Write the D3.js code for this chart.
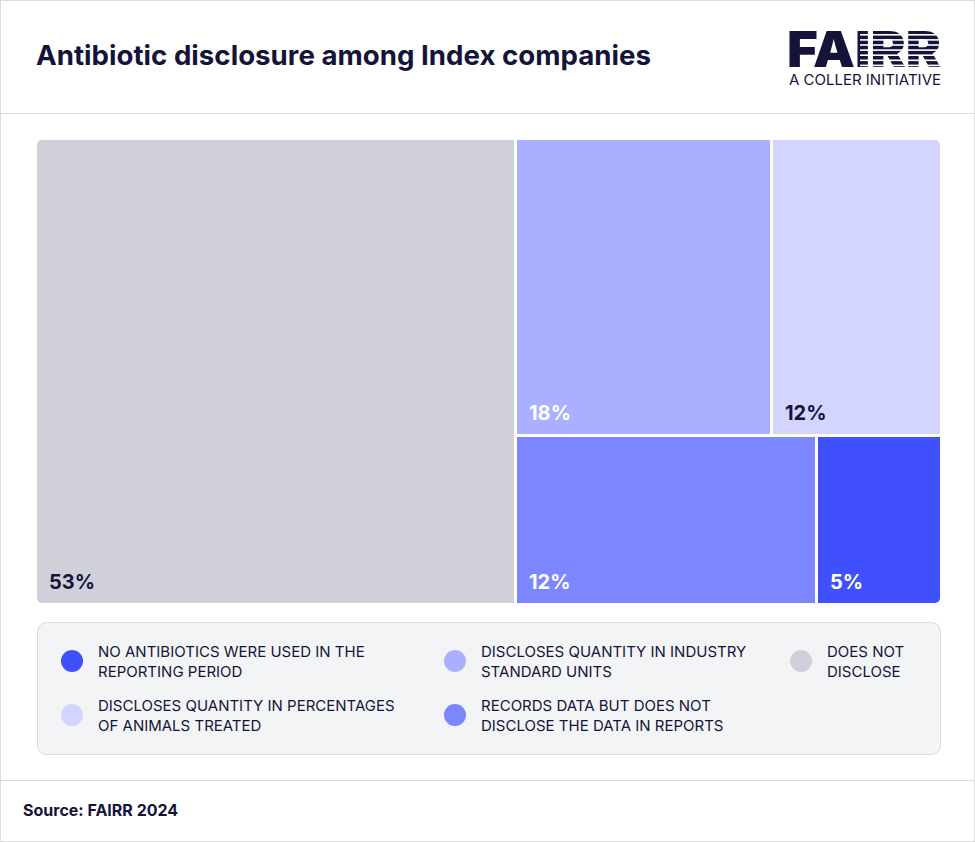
<!DOCTYPE html>
<html>
<head>
<meta charset="utf-8">
<title>Antibiotic disclosure among Index companies</title>
<script src="https://d3js.org/d3.v7.min.js"></script>
<style>
  body { margin: 0; background: #fff; }
  text { font-family: Inter, "Noto Sans", sans-serif; }
</style>
</head>
<body>
<script>
// data
const categories = [
  "DOES NOT DISCLOSE",
  "DISCLOSES QUANTITY IN INDUSTRY STANDARD UNITS",
  "DISCLOSES QUANTITY IN PERCENTAGES OF ANIMALS TREATED",
  "RECORDS DATA BUT DOES NOT DISCLOSE THE DATA IN REPORTS",
  "NO ANTIBIOTICS WERE USED IN THE REPORTING PERIOD"
];
const shares = [53, 18, 12, 12, 5];
const colors = ["#d0d0da", "#aab0ff", "#d3d4ff", "#7b86ff", "#4050ff"];
const labelColors = ["#14143a", "#ffffff", "#14143a", "#ffffff", "#ffffff"];

// legend order + wrapped lines
const legendOrder = [4, 1, 0, 2, 3];
const legendLines = [
  ["NO ANTIBIOTICS WERE USED IN THE", "REPORTING PERIOD"],
  ["DISCLOSES QUANTITY IN INDUSTRY", "STANDARD UNITS"],
  ["DOES NOT", "DISCLOSE"],
  ["DISCLOSES QUANTITY IN PERCENTAGES", "OF ANIMALS TREATED"],
  ["RECORDS DATA BUT DOES NOT", "DISCLOSE THE DATA IN REPORTS"]
];

const W = 975, H = 842;
const navy = "#14143a";

const svg = d3.select("body").append("svg")
  .attr("width", W).attr("height", H);

// frame
svg.append("rect").attr("x", 0.5).attr("y", 0.5).attr("width", W - 1).attr("height", H - 1)
  .attr("fill", "#fff").attr("stroke", "#dcdcdf");
svg.append("line").attr("x1", 0).attr("x2", W).attr("y1", 113.5).attr("y2", 113.5)
  .attr("stroke", "#dcdcdf");
svg.append("line").attr("x1", 0).attr("x2", W).attr("y1", 780.5).attr("y2", 780.5)
  .attr("stroke", "#dcdcdf");

// title
svg.append("text").attr("x", 36).attr("y", 65)
  .attr("font-size", 27.5).attr("font-weight", 700).attr("fill", navy)
  .attr("textLength", 615).attr("lengthAdjust", "spacingAndGlyphs")
  .text("Antibiotic disclosure among Index companies");

// logo
const logo = svg.append("g");
logo.append("text").attr("x", 787).attr("y", 67)
  .attr("font-size", 50).attr("font-weight", 900).attr("fill", navy)
  .attr("textLength", 154).attr("lengthAdjust", "spacingAndGlyphs")
  .text("FAIRR");
// stripes over the IRR
for (let i = 0; i < 7; i++) {
  logo.append("rect").attr("x", 860).attr("y", 34 + i * 5.1).attr("width", 84).attr("height", 1.6)
    .attr("fill", "#fff");
}
logo.append("text").attr("x", 941).attr("y", 85).attr("text-anchor", "end")
  .attr("font-size", 14).attr("fill", navy)
  .attr("textLength", 152).attr("lengthAdjust", "spacingAndGlyphs")
  .text("A COLLER INITIATIVE");

// treemap
const tx = 37, ty = 140, tw = 903, th = 463;
const root = d3.hierarchy({ children: shares.map((v, i) => ({ i, value: v })) })
  .sum(d => d.value || 0);
d3.treemap().tile(d3.treemapSquarify).size([tw, th]).paddingInner(3).round(true)(root);

svg.append("clipPath").attr("id", "tmclip")
  .append("rect").attr("x", tx).attr("y", ty).attr("width", tw).attr("height", th).attr("rx", 5);

const tm = svg.append("g").attr("clip-path", "url(#tmclip)");
const cells = tm.selectAll("g.cell").data(root.leaves()).join("g")
  .attr("class", "cell")
  .attr("transform", d => `translate(${tx + d.x0},${ty + d.y0})`);
cells.append("rect")
  .attr("width", d => d.x1 - d.x0).attr("height", d => d.y1 - d.y0)
  .attr("fill", d => colors[d.data.i]);
cells.append("text")
  .attr("x", 12).attr("y", d => d.y1 - d.y0 - 14)
  .attr("font-size", 20).attr("font-weight", 700)
  .attr("fill", d => labelColors[d.data.i])
  .text(d => shares[d.data.i] + "%");

// legend
svg.append("rect").attr("x", 37.5).attr("y", 622.5).attr("width", 903).attr("height", 132)
  .attr("rx", 9).attr("fill", "#f3f4f6").attr("stroke", "#dcdcdf");
const colX = [72, 455, 801], rowY = [661, 715];
legendOrder.forEach((ci, k) => {
  const cx = colX[k % 3], cy = rowY[Math.floor(k / 3)];
  svg.append("circle").attr("cx", cx).attr("cy", cy).attr("r", 11).attr("fill", colors[ci]);
  const t = svg.append("text").attr("x", cx + 26).attr("y", cy - 4)
    .attr("font-size", 15).attr("fill", navy);
  legendLines[k].forEach((ln, j) => {
    t.append("tspan").attr("x", cx + 26).attr("dy", j === 0 ? 0 : 20).text(ln);
  });
});

// source
svg.append("text").attr("x", 23).attr("y", 816)
  .attr("font-size", 16).attr("font-weight", 700).attr("fill", navy)
  .text("Source: FAIRR 2024");
</script>
</body>
</html>
